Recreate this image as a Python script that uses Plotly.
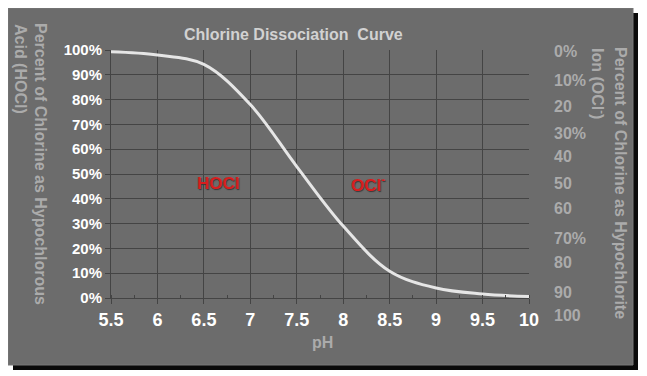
import plotly.graph_objects as go

# ---- data ----
ph = [5.5, 6.0, 6.5, 7.0, 7.5, 8.0, 8.5, 9.0, 9.5, 10.0]
hocl_pct = [99.3, 98.0, 94.2, 78.0, 53.0, 29.0, 10.8, 4.0, 1.6, 0.6]

left_tick_vals = [0, 10, 20, 30, 40, 50, 60, 70, 80, 90, 100]
left_tick_text = ["0%", "10%", "20%", "30%", "40%", "50%", "60%", "70%", "80%", "90%", "100%"]
x_tick_vals = [5.5, 6, 6.5, 7, 7.5, 8, 8.5, 9, 9.5, 10]
x_tick_text = ["5.5", "6", "6.5", "7", "7.5", "8", "8.5", "9", "9.5", "10"]

right_labels = ["0%", "10%", "20", "30%", "40", "50", "60", "70%", "80", "90", "100"]
right_label_y = [99.2, 87.9, 77.4, 66.5, 56.9, 46.0, 35.9, 23.8, 14.5, 2.4, -6.9]  # in left-axis % units

title_text = "Chlorine Dissociation\u00a0\u00a0Curve"
left_title = ["Percent of Chlorine as Hypochlorous", "Acid (HOCl)"]
right_title = ["Percent of Chlorine as Hypochlorite", "Ion (OCl<sup>-</sup>)"]

# page has an 8px body margin, so the figure is 8px smaller than the window
OFF = 8
W, H = 647 - OFF, 376 - OFF
# plot-area edges in window pixels
L, R, T, B = 111, 529, 50, 298


def px_x(p):
    return (p - L) / (R - L)


def px_y(p):
    return (B - p) / (B - T)


FONT = "Arial, Liberation Sans, sans-serif"
GRAY_TXT = "#ababab"

fig = go.Figure()
fig.add_trace(go.Scatter(
    x=ph, y=hocl_pct, mode="lines",
    line=dict(color="#e6e6e6", width=3, shape="spline", smoothing=1.0),
    hoverinfo="skip", showlegend=False,
))

shapes = [
    dict(type="rect", xref="paper", yref="paper", layer="below",
         x0=px_x(13), x1=px_x(638), y0=px_y(13), y1=px_y(370),
         fillcolor="#0a0a0a", line=dict(width=0)),
    dict(type="rect", xref="paper", yref="paper", layer="below",
         x0=px_x(8), x1=px_x(633), y0=px_y(8), y1=px_y(365),
         fillcolor="#6c6c6c", line=dict(color="#787878", width=1)),
]

annotations = []
annotations.append(dict(text=f"<b>{title_text}</b>", xref="paper", yref="paper",
                        x=px_x(293), y=px_y(24), showarrow=False,
                        font=dict(family=FONT, size=16, color="#d2d2d2")))
annotations.append(dict(text="<b>pH</b>", xref="paper", yref="paper",
                        x=px_x(322), y=px_y(353), showarrow=False,
                        font=dict(family=FONT, size=16, color=GRAY_TXT)))
# left axis title (rotated)
for txt, cx, cy in zip(left_title, [41, 21], [164, 69]):
    annotations.append(dict(text=f"<b>{txt}</b>", xref="paper", yref="paper",
                            x=px_x(cx), y=px_y(cy), xanchor="center", yanchor="middle",
                            textangle=90, showarrow=False,
                            font=dict(family=FONT, size=16, color=GRAY_TXT)))
for txt, cx, cy in zip(right_title, [621, 599], [183, 83]):
    annotations.append(dict(text=f"<b>{txt}</b>", xref="paper", yref="paper",
                            x=px_x(cx), y=px_y(cy), xanchor="center", yanchor="middle",
                            textangle=90, showarrow=False,
                            font=dict(family=FONT, size=16, color=GRAY_TXT)))
# right labels
for txt, yv in zip(right_labels, right_label_y):
    annotations.append(dict(text=f"<b>{txt}</b>", xref="paper", yref="paper",
                            x=px_x(552), y=yv / 100.0, xanchor="left", yanchor="middle",
                            showarrow=False,
                            font=dict(family=FONT, size=16, color=GRAY_TXT)))
# species labels
for txt, xv in zip(["HOCl", "OCl<sup>-</sup>"], [6.66, 8.27]):
    annotations.append(dict(text=f"<b>{txt}</b>", x=xv, y=46, xref="x", yref="y",
                            showarrow=False,
                            font=dict(family=FONT, size=17, color="#d81e1e",
                                      shadow="1px 1px 1px #3a3a3a")))

fig.update_layout(
    width=W, height=H,
    margin=dict(l=L - OFF, r=W - (R - OFF), t=T - OFF, b=H - (B - OFF)),
    paper_bgcolor="#ffffff",
    plot_bgcolor="rgba(0,0,0,0)",
    shapes=shapes,
    annotations=annotations,
    xaxis=dict(range=[5.5, 10], tickvals=x_tick_vals, ticktext=[f"<b>{t}</b>" for t in x_tick_text],
               showgrid=True, gridcolor="#444444", gridwidth=1,
               zeroline=False, showline=True, linecolor="#444444", linewidth=1,
               ticks="outside", ticklen=5, tickcolor="#444444",
               minor=dict(ticks="inside", ticklen=3, tickcolor="#444444", dtick=0.25, showgrid=False),
               tickfont=dict(family=FONT, size=18, color="#ffffff"), fixedrange=True),
    yaxis=dict(range=[0, 100], tickvals=left_tick_vals, ticktext=[f"<b>{t}</b>" for t in left_tick_text],
               showgrid=True, gridcolor="#444444", gridwidth=1,
               zeroline=False, showline=True, linecolor="#444444", linewidth=1,
               ticks="outside", ticklen=5, tickcolor="#444444",
               tickfont=dict(family=FONT, size=15, color="#ffffff"), fixedrange=True),
)

fig.write_html("out.html")
